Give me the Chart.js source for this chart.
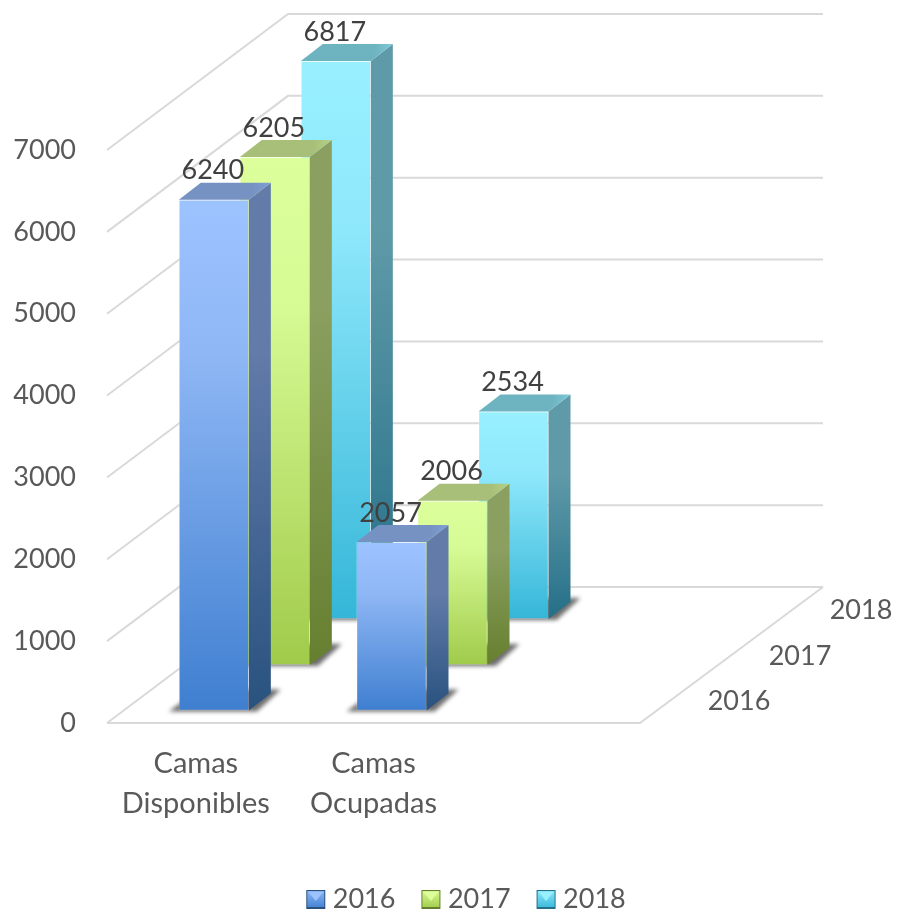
<!DOCTYPE html>
<html lang="es">
  <head>
    <meta charset="utf-8">
    <title>Camas disponibles y ocupadas</title>
    <style>
      html, body { margin: 0; padding: 0; background: #ffffff; overflow: hidden; }
      canvas { display: block; }
    </style>
  </head>

  <body>
    <canvas id="MyCanvas" width="898" height="910"></canvas>

    <script src="https://cdn.jsdelivr.net/npm/chart.js@4/dist/chart.umd.js"></script>
    <script>
      const categories = [['Camas', 'Disponibles'], ['Camas', 'Ocupadas'], ''];
      const seriesNames = ['2016', '2017', '2018'];
      const values2016 = [6240, 2057];
      const values2017 = [6205, 2006];
      const values2018 = [6817, 2534];

      // fake 3D: how far each series sits back on the floor, and the size of the bar's side
      const shiftX = [18, 79, 140];
      const shiftY = [12.5, 58, 104];
      const wallX = 181, wallY = 136;
      const sideX = 22, sideY = 17;

      const textColor = '#595959';
      const gridColor = '#d9d9d9';

      const palette = [
        { front: ['#9dc3ff', '#8fb7f5', '#3f7fd0'], side: ['#627ba9', '#29527f'], top: ['#7592c2', '#7f9fd6'] },
        { front: ['#dcff9b', '#d6fa94', '#a0cb4a'], side: ['#8a9f60', '#667f2f'], top: ['#a8bf79', '#b6d084'] },
        { front: ['#98f0ff', '#8ee8fb', '#35b6d8'], side: ['#5f9aa8', '#256f88'], top: ['#6eb3c0', '#7ccbd9'] }
      ];

      function frontGradient(chart, i, yTop, yBottom) {
        const g = chart.ctx.createLinearGradient(0, yTop, 0, yBottom);
        g.addColorStop(0, palette[i].front[0]);
        g.addColorStop(0.3, palette[i].front[1]);
        g.addColorStop(1, palette[i].front[2]);
        return g;
      }

      function makeDataset(name, values, i) {
        return {
          label: name,
          data: values,
          clip: false,
          barThickness: 70,
          grouped: false,
          borderWidth: 1,
          borderSkipped: false,
          borderColor: 'rgba(255,255,255,0.25)',
          backgroundColor: function (c) {
            const y = c.chart.scales.y;
            if (!y || c.raw === undefined) return palette[i].front[1];
            return frontGradient(c.chart, i, y.getPixelForValue(c.raw), y.getPixelForValue(0));
          }
        };
      }

      function poly(ctx, pts) {
        ctx.beginPath();
        ctx.moveTo(pts[0][0], pts[0][1]);
        for (let k = 1; k < pts.length; k++) ctx.lineTo(pts[k][0], pts[k][1]);
        ctx.closePath();
        ctx.fill();
      }

      const floorAndWalls = {
        id: 'floorAndWalls',
        beforeDatasetsDraw(chart) {
          const ctx = chart.ctx;
          const area = chart.chartArea;
          const y = chart.scales.y;
          ctx.save();
          ctx.strokeStyle = gridColor;
          ctx.lineWidth = 2;
          y.ticks.forEach(function (t) {
            const py = y.getPixelForValue(t.value);
            ctx.beginPath();
            ctx.moveTo(area.left, py);
            ctx.lineTo(area.left + wallX, py - wallY);
            ctx.lineTo(area.right + wallX + 2, py - wallY);
            ctx.stroke();
          });
          const py0 = y.getPixelForValue(0);
          ctx.beginPath();
          ctx.moveTo(area.left, py0);
          ctx.lineTo(area.right, py0);
          ctx.lineTo(area.right + wallX + 2, py0 - wallY);
          ctx.stroke();
          // year labels along the depth edge
          ctx.fillStyle = textColor;
          ctx.font = '27px Lato';
          ctx.textAlign = 'center';
          ctx.textBaseline = 'middle';
          seriesNames.forEach(function (name, i) {
            ctx.fillText(name, area.right + shiftX[i] + 81, py0 - shiftY[i] - 9);
          });
          ctx.restore();
        },
        beforeDatasetDraw(chart, args) {
          const ctx = chart.ctx;
          const i = args.index;
          const y0 = chart.scales.y.getPixelForValue(0);
          ctx.save();
          ctx.translate(shiftX[i], -shiftY[i]);
          // soft shadow on the floor
          ctx.save();
          ctx.filter = 'blur(2px)';
          ctx.fillStyle = 'rgba(60,60,60,0.75)';
          args.meta.data.forEach(function (bar) {
            const l = bar.x - 35, r = bar.x + 35;
            poly(ctx, [[l - 10, y0 + 1], [r + 8, y0 + 1], [r + sideX + 10, y0 - sideY - 4], [l + 20, y0 - sideY - 4]]);
          });
          ctx.restore();
        },
        afterDatasetDraw(chart, args) {
          const ctx = chart.ctx;
          const i = args.index;
          const y0 = chart.scales.y.getPixelForValue(0);
          args.meta.data.forEach(function (bar) {
            const l = bar.x - 35, r = bar.x + 35, t = bar.y;
            const sg = ctx.createLinearGradient(0, t, 0, y0);
            sg.addColorStop(0, palette[i].side[0]);
            sg.addColorStop(0.3, palette[i].side[0]);
            sg.addColorStop(1, palette[i].side[1]);
            ctx.fillStyle = sg;
            poly(ctx, [[r, t], [r + sideX, t - sideY], [r + sideX, y0 - sideY], [r, y0]]);
            const tg = ctx.createLinearGradient(l, 0, r + sideX, 0);
            tg.addColorStop(0, palette[i].top[0]);
            tg.addColorStop(0.8, palette[i].top[0]);
            tg.addColorStop(1, palette[i].top[1]);
            ctx.fillStyle = tg;
            poly(ctx, [[l, t], [l + sideX, t - sideY], [r + sideX, t - sideY], [r, t]]);
          });
          ctx.restore();
        },
        afterDatasetsDraw(chart) {
          const ctx = chart.ctx;
          ctx.save();
          ctx.fillStyle = '#404040';
          ctx.font = '27px Lato';
          ctx.textAlign = 'center';
          ctx.textBaseline = 'middle';
          chart.data.datasets.forEach(function (ds, i) {
            chart.getDatasetMeta(i).data.forEach(function (bar, k) {
              ctx.fillText(String(ds.data[k]), bar.x + shiftX[i] - 1, bar.y - shiftY[i] - 29);
            });
          });
          ctx.restore();
        },
        afterDraw(chart) {
          // legend squares, the library only leaves the room for them
          const ctx = chart.ctx;
          const size = 19;
          chart.legend.legendHitBoxes.forEach(function (box, i) {
            const x = box.left, y = box.top + box.height / 2 - size / 2;
            ctx.save();
            ctx.fillStyle = palette[i].side[1];
            ctx.fillRect(x, y, size, size);
            const g = ctx.createLinearGradient(0, y, 0, y + size);
            g.addColorStop(0, palette[i].front[1]);
            g.addColorStop(1, palette[i].front[2]);
            ctx.fillStyle = g;
            ctx.fillRect(x + 1, y + 1, size - 2, size - 3);
            ctx.fillStyle = palette[i].front[0];
            poly(ctx, [[x + 2, y + 2], [x + size - 2, y + 2], [x + size / 2, y + size - 8]]);
            ctx.restore();
          });
        }
      };

      const MyCanvas = new Chart(document.getElementById('MyCanvas'), {
        type: 'bar',
        data: {
          labels: categories,
          datasets: [
            makeDataset(seriesNames[0], values2016, 0),
            makeDataset(seriesNames[1], values2017, 1),
            makeDataset(seriesNames[2], values2018, 2)
          ]
        },
        plugins: [floorAndWalls],
        options: {
          responsive: false,
          animation: false,
          layout: { padding: { left: 0, right: -34, top: 150, bottom: -13 } },
          plugins: {
            tooltip: { enabled: false },
            legend: {
              position: 'bottom',
              labels: {
                color: textColor,
                font: { family: 'Lato', size: 27 },
                boxWidth: 13,
                padding: 26,
                generateLabels: function (chart) {
                  return seriesNames.map(function (name, i) {
                    return { text: name, fontColor: textColor, fillStyle: 'rgba(0,0,0,0)', strokeStyle: 'rgba(0,0,0,0)', lineWidth: 0, datasetIndex: i };
                  });
                }
              }
            }
          },
          scales: {
            x: {
              grid: { display: false },
              border: { display: false },
              afterFit: function (s) { s.height = 137; },
              ticks: {
                color: textColor,
                font: { family: 'Lato', size: 29, lineHeight: 1.38 },
                padding: 13,
                maxRotation: 0,
                autoSkip: false
              }
            },
            y: {
              min: 0,
              max: 7000,
              grid: { display: false, drawTicks: false },
              border: { display: false },
              afterFit: function (s) { s.width = 107; },
              ticks: {
                stepSize: 1000,
                color: textColor,
                font: { family: 'Lato', size: 27 },
                padding: 31,
                callback: function (v) { return String(v); }
              }
            },
            // empty axis, only keeps the room on the right of the floor
            side: {
              type: 'linear',
              position: 'right',
              min: 0,
              max: 7000,
              grid: { display: false },
              border: { display: false },
              ticks: { display: false },
              afterFit: function (s) { s.width = 292; }
            }
          }
        }
      });
    </script>
  </body>
</html>
